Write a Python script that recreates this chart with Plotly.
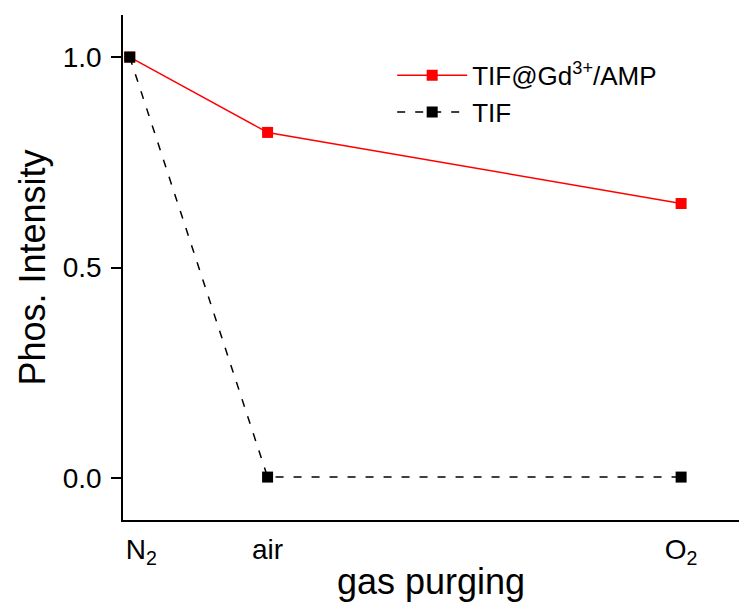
import plotly.graph_objects as go

# Data
gases = ["&nbsp;&nbsp;&nbsp;N<sub>2</sub>", "air", "O<sub>2</sub>"]
gas_pos = [0, 1, 4]
tif_gd_amp = [1.0, 0.821, 0.652]
tif = [1.0, 0.002, 0.002]

fig = go.Figure()
fig.add_trace(go.Scatter(
    x=gas_pos, y=tif_gd_amp, mode="lines+markers",
    name="TIF@Gd<sup>3+</sup>/AMP",
    line=dict(color="#ff0000", width=1.5),
    marker=dict(symbol="square", size=11, color="#ff0000"),
))
fig.add_trace(go.Scatter(
    x=gas_pos, y=tif, mode="lines+markers",
    name="TIF",
    line=dict(color="black", width=1.5, dash="8px,10px"),
    marker=dict(symbol="square", size=11, color="black"),
))

font = "Arial, Liberation Sans, Helvetica, sans-serif"
fig.update_layout(
    width=739, height=607,
    margin=dict(l=123, r=0, t=15, b=87),
    paper_bgcolor="white", plot_bgcolor="white",
    font=dict(family=font, color="black"),
    showlegend=True,
    legend=dict(
        x=0.437, y=0.927, xanchor="left", yanchor="top",
        font=dict(size=26, family=font),
        itemwidth=70,
        bgcolor="rgba(0,0,0,0)", tracegroupgap=0,
    ),
    xaxis=dict(
        range=[-0.049, 4.42],
        tickvals=gas_pos, ticktext=gases,
        showgrid=False, zeroline=False,
        showline=True, linecolor="black", linewidth=1.5,
        ticks="", tickfont=dict(size=28),
        ticklabelstandoff=4,
        title=dict(text="gas purging", font=dict(size=36), standoff=1),
    ),
    yaxis=dict(
        range=[-0.1, 1.1],
        tickvals=[0, 0.5, 1.0], ticktext=["0.0", "0.5", "1.0"],
        showgrid=False, zeroline=False,
        showline=True, linecolor="black", linewidth=1.5,
        ticks="outside", ticklen=10, tickwidth=1.5, tickcolor="black",
        tickfont=dict(size=28), ticklabelstandoff=4,
        title=dict(text="Phos. Intensity", font=dict(size=36), standoff=6),
    ),
)

fig.write_html("out.html")
